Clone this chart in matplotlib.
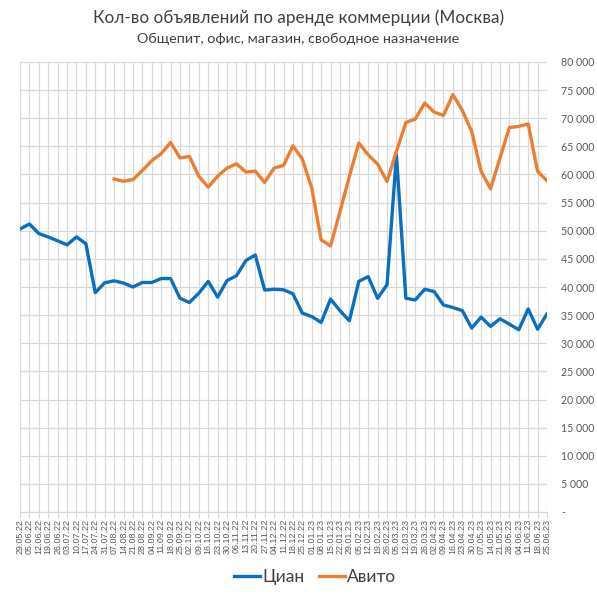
import numpy as np
from matplotlib import pyplot as plt
from matplotlib.ticker import FuncFormatter

plt.rcParams['font.family'] = ['Lato', 'DejaVu Sans']

dates = ['29.05.22','05.06.22','12.06.22','19.06.22','26.06.22','03.07.22','10.07.22','17.07.22',
         '24.07.22','31.07.22','07.08.22','14.08.22','21.08.22','28.08.22','04.09.22','11.09.22',
         '18.09.22','25.09.22','02.10.22','09.10.22','16.10.22','23.10.22','30.10.22','06.11.22',
         '13.11.22','20.11.22','27.11.22','04.12.22','11.12.22','18.12.22','25.12.22','01.01.23',
         '08.01.23','15.01.23','22.01.23','29.01.23','05.02.23','12.02.23','19.02.23','26.02.23',
         '05.03.23','12.03.23','19.03.23','26.03.23','02.04.23','09.04.23','16.04.23','23.04.23',
         '30.04.23','07.05.23','14.05.23','21.05.23','28.05.23','04.06.23','11.06.23','18.06.23',
         '25.06.23']

cian = [50300, 51200, 49500, 48900, 48200, 47500, 48900, 47700, 39000, 40750,
        41100, 40700, 40000, 40800, 40800, 41500, 41500, 38000, 37250, 38900,
        41000, 38200, 41150, 42000, 44700, 45700, 39450, 39600, 39500, 38800,
        35350, 34750, 33700, 37850, 35800, 34000, 41000, 41850, 38000, 40400,
        63500, 38000, 37700, 39600, 39200, 36800, 36350, 35800, 32700, 34650,
        33000, 34350, 33400, 32400, 36100, 32500, 35200]

avito = [np.nan]*10 + [
        59200, 58800, 59100, 60700, 62450, 63700, 65700, 62950, 63200, 59700,
        57750, 59700, 61150, 61900, 60450, 60600, 58600, 61150, 61600, 65100,
        62750, 57600, 48400, 47300, 53400, 59650, 65600, 63500, 61850, 58750,
        64100, 69250, 69850, 72700, 71100, 70500, 74200, 71400, 67650, 60550,
        57450, 62900, 68350, 68550, 69000, 60550, 58900]

x = np.arange(len(dates))

fig = plt.figure(figsize=(5.97, 5.95), dpi=100)
ax = fig.add_axes([20/597, 1-512/595, 527/597, 450/595])

ax.plot(x, cian, color='#0A6FBF', lw=2.4, label='Циан', solid_joinstyle='round')
ax.plot(x, avito, color='#ED7D31', lw=2.4, label='Авито', solid_joinstyle='round')

ax.set_xlim(0, len(dates)-1)
ax.set_ylim(0, 80000)
ax.set_yticks(np.arange(0, 80001, 5000))
ax.yaxis.set_major_formatter(FuncFormatter(lambda v, p: '-' if v == 0 else f'{int(v):,}'.replace(',', ' ')))
ax.yaxis.tick_right()
ax.tick_params(axis='y', length=0, labelsize=7.6, colors='#595959', pad=10)

ax.set_xticks(x)
ax.set_xticklabels(dates, rotation=90, fontsize=6.4, color='#595959', family='Liberation Sans')
ax.tick_params(axis='x', length=4, color='#D9D9D9', pad=1)

ax.grid(True, color='#D9D9D9', lw=0.9)
ax.set_axisbelow(True)
for s in ['top', 'left', 'right']:
    ax.spines[s].set_visible(False)
ax.spines['bottom'].set_color('#D9D9D9')

fig.text(0.5, 1-18/595, 'Кол-во объявлений по аренде коммерции (Москва)', ha='center', va='center',
         fontsize=12.3, color='#404040')
fig.text(0.5, 1-39/595, 'Общепит, офис, магазин, свободное назначение', ha='center', va='center',
         fontsize=10.4, color='#404040')

fig.legend(loc='center', bbox_to_anchor=(315/597, 1-577/595), ncol=2, frameon=False,
           fontsize=12.5, handlelength=1.5, handletextpad=0.15, columnspacing=0.8, labelcolor='#404040')

fig.savefig('out.png', dpi=100)
